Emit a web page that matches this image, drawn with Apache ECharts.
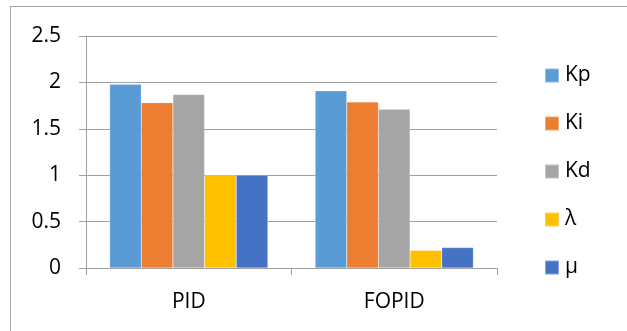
<!DOCTYPE html>
<html>
<head>
<meta charset="utf-8">
<title>PID vs FOPID gains</title>
<script src="https://cdn.jsdelivr.net/npm/echarts@6/dist/echarts.min.js"></script>
<style>
  html, body { margin: 0; padding: 0; background: #fff; }
  #frame { position: absolute; left: 10px; top: 6px; width: 640px; height: 340px;
           border-left: 1px solid #a6a6a6; border-top: 1px solid #a6a6a6; box-sizing: border-box; }
  #chart { position: absolute; left: 0; top: 0; width: 627px; height: 331px; }
</style>
</head>
<body>
<div id="frame"></div>
<div id="chart"></div>
<script>
// Controller types on the x axis
const categories = ['PID', 'FOPID'];

// Tuned parameter values per controller
const seriesNames = ['Kp', 'Ki', 'Kd', 'λ', 'μ'];
const kp = [1.98, 1.91];
const ki = [1.78, 1.79];
const kd = [1.87, 1.71];
const lambda = [1.0, 0.19];
const mu = [1.0, 0.22];

// Value axis ticks
const yMin = 0;
const yMax = 2.5;
const yStep = 0.5;

const colors = ['#5B9BD5', '#ED7D31', '#A5A5A5', '#FFC000', '#4472C4'];
const values = [kp, ki, kd, lambda, mu];

const font = '"Open Sans", "Noto Sans", sans-serif';
const textColor = '#000';

const chart = echarts.init(document.getElementById('chart'), null, { renderer: 'canvas' });

chart.setOption({
  animation: false,
  backgroundColor: 'transparent',
  color: colors,
  grid: { left: 86, right: 130, top: 36, bottom: 63, containLabel: false },
  legend: {
    orient: 'vertical',
    left: 539,
    top: 60,
    itemWidth: 14,
    itemHeight: 14,
    itemGap: 27,
    icon: 'rect',
    data: seriesNames,
    textStyle: { fontFamily: font, fontSize: 21, color: textColor, lineHeight: 21, padding: [0, 0, 0, 1] }
  },
  xAxis: {
    type: 'category',
    data: categories,
    axisLine: { show: true, lineStyle: { color: '#a0a0a0', width: 1 } },
    axisTick: { show: true, length: 7, alignWithLabel: false, lineStyle: { color: '#a0a0a0' } },
    axisLabel: { fontFamily: font, fontSize: 21, color: textColor, margin: 24 },
    splitLine: { show: false }
  },
  yAxis: {
    type: 'value',
    min: yMin,
    max: yMax,
    interval: yStep,
    axisLine: { show: true, lineStyle: { color: '#a0a0a0', width: 1 } },
    axisTick: { show: true, length: 7, lineStyle: { color: '#a0a0a0' } },
    axisLabel: { fontFamily: font, fontSize: 21, color: textColor, margin: 25 },
    splitLine: { show: true, lineStyle: { color: '#a0a0a0', width: 1 } }
  },
  series: seriesNames.map((name, i) => ({
    name: name,
    type: 'bar',
    data: values[i],
    barGap: '0%',
    barCategoryGap: '23%',
    itemStyle: { color: colors[i], borderColor: 'rgba(255,255,255,0.35)', borderWidth: 0.5 }
  }))
});
</script>
</body>
</html>
